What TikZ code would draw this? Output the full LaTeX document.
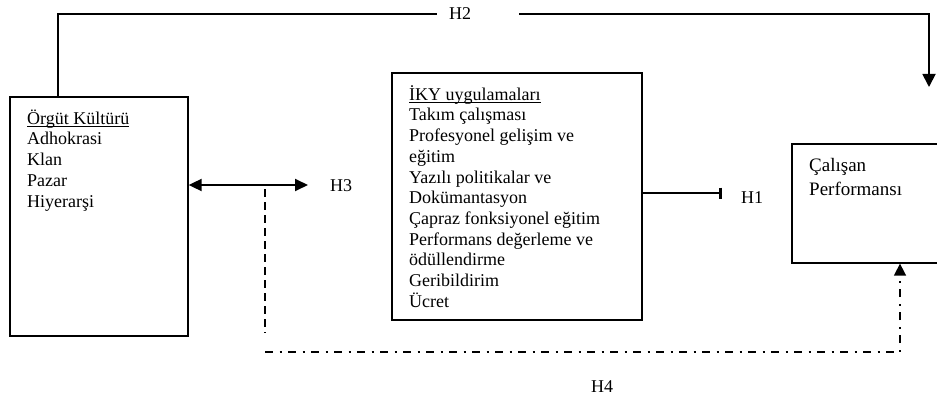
\documentclass[tikz,border=0pt]{standalone}
\usepackage{fontspec}
\setmainfont{Liberation Serif}
\usetikzlibrary{arrows.meta}
\newcommand\myul[1]{\setbox0\hbox{#1}\rlap{\rule[-2.2pt]{\wd0}{0.9pt}}\box0}
\begin{document}
\begin{tikzpicture}[x=1pt,y=-1pt,
  box/.style={draw, line width=1.3pt, inner sep=0pt},
  txt/.style={anchor=north west, inner sep=0pt, align=left, font=\fontsize{18}{20.7}\selectfont},
  lab/.style={inner sep=0pt, font=\fontsize{18}{20.7}\selectfont},
  conn/.style={line width=1.8pt},
  tri/.style={-{Triangle[length=13pt,width=13pt]}},
  dashdot/.style={line width=1.6pt, dash pattern=on 8pt off 6.5pt on 2pt off 6.5pt},
  dashv/.style={line width=1.6pt, dash pattern=on 8pt off 5pt}
]
\useasboundingbox (0,0) rectangle (937,401);

% boxes
\node[box, minimum width=178pt, minimum height=239pt] (ok) at (99,216.5) {};
\node[box, minimum width=250pt, minimum height=247pt] (iky) at (517,196.5) {};
\node[box, minimum width=158pt, minimum height=119pt] (cp) at (871,203.5) {};

% texts
\node[txt] (oktxt) at (27,108) {\rule{0pt}{16pt}\myul{Örgüt Kültürü}\\Adhokrasi\\Klan\\Pazar\\Hiyerarşi};
\node[txt] (ikytxt) at (409,84) {\rule{0pt}{16pt}\myul{İKY uygulamaları}\\Takım çalışması\\Profesyonel gelişim ve\\eğitim\\Yazılı politikalar ve\\Dokümantasyon\\Çapraz fonksiyonel eğitim\\Performans değerleme ve\\ödüllendirme\\Geribildirim\\Ücret};
\node[txt, font=\fontsize{19}{24}\selectfont] (cptxt) at (809,155) {\rule{0pt}{16.5pt}Çalışan\\Performansı};

% labels
\node[lab] (H2) at (460,14) {H2};
\node[lab] (H3) at (341,186) {H3};
\node[lab] (H1) at (752,198) {H1};
\node[lab] (H4) at (602,387) {H4};

% free ends
\coordinate (h2end) at (929,87);
\coordinate (h3end) at (308,185);
\coordinate (h1end) at (722,193);
\coordinate (h4top) at (265,189);
\coordinate (h4bot) at (265,333);
\coordinate (h4l) at (265,352);
\coordinate (h4r) at (900,352);

% H2
\draw[conn] ([xshift=-41pt]ok.north) |- ([xshift=-12pt]H2.west);
\draw[conn, tri] ([xshift=48pt]H2.east) -| (h2end);

% H3
\draw[conn, {Triangle[length=13pt,width=12pt]}-{Triangle[length=13pt,width=12pt]}] (ok.east |- h3end) -- (h3end);

% H1
\draw[conn, -{Bar[width=11pt,line width=3pt]}] (iky.east |- h1end) -- (h1end);

% H4
\draw[dashv] (h4top) -- (h4bot);
\draw[dashdot, -{Triangle[length=12pt,width=12pt]}] (h4l) -- (h4r) -- (h4r |- cp.south);
\end{tikzpicture}
\end{document}
